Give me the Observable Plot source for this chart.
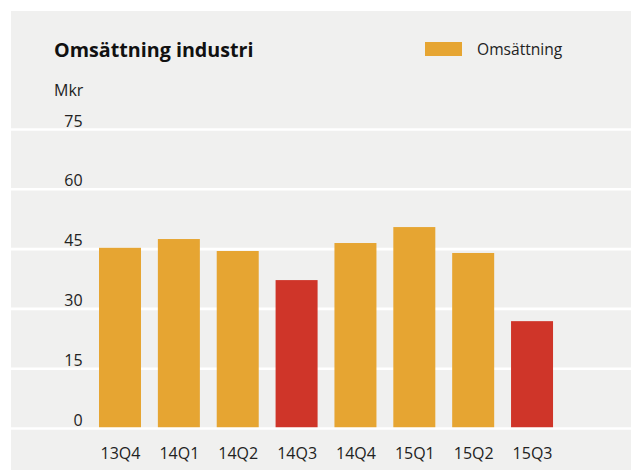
<!DOCTYPE html>
<html>
<head>
<meta charset="utf-8">
<script src="https://cdn.jsdelivr.net/npm/d3@7"></script>
<script src="https://cdn.jsdelivr.net/npm/@observablehq/plot@0.6"></script>
<style>
  html, body { margin: 0; padding: 0; background: #ffffff; }
  #wrap { position: relative; width: 631px; height: 470px; overflow: hidden; font-family: "Open Sans", sans-serif; color: #222; }
  #panel { position: absolute; left: 11px; top: 11px; width: 620px; height: 459px; background: #f0f0ef; }
  #title { position: absolute; left: 54px; top: 36.5px; font-size: 19.7px; font-weight: 700; line-height: 26px; white-space: nowrap; color: #111; }
  #unit { position: absolute; left: 54px; top: 78.5px; font-size: 16px; line-height: 22px; color: #222; }
  #legend { position: absolute; left: 425px; top: 42px; height: 14px; display: flex; align-items: center; }
  #legend .sw { width: 37px; height: 14px; background: #e6a532; }
  #legend .lb { margin-left: 15px; font-size: 15.6px; line-height: 14px; color: #222; white-space: nowrap; }
  #chart { position: absolute; left: 0; top: 100px; }
</style>
</head>
<body>
<div id="wrap">
  <div id="panel"></div>
  <div id="title">Omsättning industri</div>
  <div id="unit">Mkr</div>
  <div id="legend"><div class="sw"></div><div class="lb">Omsättning</div></div>
  <div id="chart"></div>
</div>
<script>
const categories = ["13Q4", "14Q1", "14Q2", "14Q3", "14Q4", "15Q1", "15Q2", "15Q3"];
const values = [45.2, 47.4, 44.4, 37.1, 46.4, 50.4, 43.9, 26.8];
const highlighted = ["14Q3", "15Q3"];
const yTicks = [0, 15, 30, 45, 60, 75];
const seriesName = "Omsättning";

const data = categories.map((c, i) => ({quarter: c, value: values[i], hl: highlighted.includes(c)}));

const ORANGE = "#e6a532";
const RED = "#cf3529";

const W = 631, H = 370;
const mL = 82.14, mR = 61.1;

const plot = Plot.plot({
  width: W,
  height: H,
  marginLeft: mL,
  marginRight: mR,
  marginTop: 29,
  marginBottom: 42,
  style: {background: "transparent", fontFamily: "Open Sans, sans-serif", fontSize: "16px", color: "#222", overflow: "visible"},
  x: {domain: categories, padding: 0.2865, round: false, label: null},
  y: {domain: [0, 75], label: null},
  marks: [
    Plot.ruleY(yTicks.filter(d => d !== 0), {stroke: "#ffffff", strokeWidth: 2.6, insetLeft: -(mL - 11), insetRight: -mR - 2}),
    Plot.barY(data, {x: "quarter", y: "value", fill: d => d.hl ? RED : ORANGE}),
    Plot.ruleY([0], {stroke: "#ffffff", strokeWidth: 2.6, insetLeft: -(mL - 11), insetRight: -mR - 2}),
    Plot.axisY(yTicks, {tickSize: 0, tickPadding: 0, lineAnchor: "bottom", dy: -3, fill: "#222", fontSize: 16, label: null}),
    Plot.axisX({tickSize: 0, tickPadding: 30, lineAnchor: "bottom", fill: "#222", fontSize: 16, label: null})
  ]
});
document.getElementById("chart").appendChild(plot);
</script>
</body>
</html>
